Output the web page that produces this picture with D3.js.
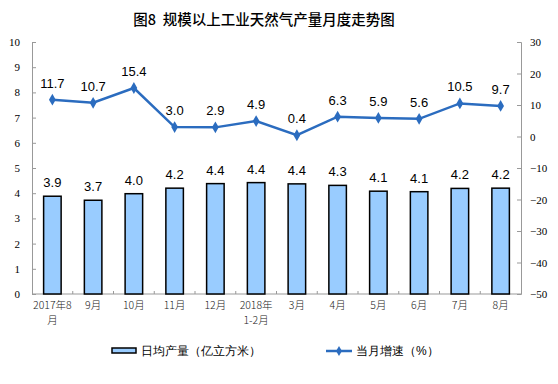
<!DOCTYPE html>
<html>
<head>
<meta charset="utf-8">
<script src="https://cdn.jsdelivr.net/npm/d3@7"></script>
<style>
  body { margin: 0; background: #fff; }
  text { font-family: "Liberation Sans", Arial, sans-serif; }
  .serif text, text.serif { font-family: "Liberation Serif", "Times New Roman", serif; }
</style>
</head>
<body>
<svg width="558" height="384"></svg>
<script>
// categories (two lines each)
var months = [["2017年8", "月"], ["9月"], ["10月"], ["11月"], ["12月"], ["2018年", "1-2月"],
              ["3月"], ["4月"], ["5月"], ["6月"], ["7月"], ["8月"]]
var output = [3.88, 3.72, 3.98, 4.2, 4.38, 4.42, 4.37, 4.31, 4.08, 4.06, 4.19, 4.2]
var outputLabels = ["3.9", "3.7", "4.0", "4.2", "4.4", "4.4", "4.4", "4.3", "4.1", "4.1", "4.2", "4.2"]
var growth = [11.7, 10.7, 15.4, 3.0, 2.9, 4.9, 0.4, 6.3, 5.9, 5.6, 10.5, 9.7]
var leftTicks = [0, 1, 2, 3, 4, 5, 6, 7, 8, 9, 10]
var rightTicks = [-50, -40, -30, -20, -10, 0, 10, 20, 30]

var svg = d3.select('svg')
var plotL = 32, plotR = 521, plotT = 42, plotB = 294
var blue = '#2b6cbf'

var x = d3.scaleBand().domain(d3.range(months.length)).range([plotL, plotR]).paddingInner(0.57).paddingOuter(0.285)
var band = d3.scaleBand().domain(d3.range(months.length)).range([plotL, plotR])
var y = d3.scaleLinear().domain([0, 10]).range([plotB, plotT])
var y2 = d3.scaleLinear().domain([-50, 30]).range([plotB, plotT])

// title
svg.append('text').attr('x', 264).attr('y', 25).attr('text-anchor', 'middle')
  .style('font-family', '"Noto Sans CJK SC", sans-serif').style('font-size', '14.5px').style('font-weight', '500')
  .text('图8\u00a0\u00a0规模以上工业天然气产量月度走势图')

// left axis
var la = svg.append('g').attr('class', 'serif').attr('transform', 'translate(' + plotL + ',0)')
  .call(d3.axisRight(y).tickValues(leftTicks).tickSize(4).tickFormat(d3.format('d')))
la.select('.domain').attr('stroke', '#999')
la.selectAll('.tick line').attr('stroke', '#999')
la.selectAll('.tick text').attr('x', -12).attr('text-anchor', 'end').style('font-size', '11px').attr('fill', '#000')

// right axis
var ra = svg.append('g').attr('class', 'serif').attr('transform', 'translate(' + plotR + ',0)')
  .call(d3.axisLeft(y2).tickValues(rightTicks).tickSize(4).tickFormat(d3.format('d')))
ra.select('.domain').attr('stroke', '#999')
ra.selectAll('.tick line').attr('stroke', '#999')
ra.selectAll('.tick text').attr('x', 9).attr('text-anchor', 'start').style('font-size', '11px').attr('fill', '#000')

// bottom axis
svg.append('line').attr('x1', plotL).attr('x2', plotR).attr('y1', plotB).attr('y2', plotB).attr('stroke', '#999')
svg.selectAll('.btick').data(d3.range(1, months.length)).enter().append('line')
  .attr('x1', function(d){ return band(d) }).attr('x2', function(d){ return band(d) })
  .attr('y1', plotB).attr('y2', plotB - 3).attr('stroke', '#999')

svg.selectAll('.xlab').data(months).enter().append('text')
  .attr('text-anchor', 'middle').attr('fill', '#222')
  .style('font-family', '"Noto Sans CJK SC", sans-serif').style('font-size', '10.5px').style('font-weight', '300')
  .each(function(d, i){
    var t = d3.select(this)
    d.forEach(function(line, j){
      t.append('tspan').attr('x', band(i) + band.bandwidth() / 2).attr('y', 309 + j * 15).text(line)
    })
  })

// bars
svg.selectAll('.bar').data(output).enter().append('rect')
  .attr('x', function(d, i){ return x(i) })
  .attr('width', x.bandwidth())
  .attr('y', function(d){ return y(d) })
  .attr('height', function(d){ return plotB - y(d) })
  .attr('fill', '#99ccff').attr('stroke', '#000').attr('stroke-width', 1.5)

svg.selectAll('.blab').data(outputLabels).enter().append('text')
  .attr('x', function(d, i){ return band(i) + band.bandwidth() / 2 })
  .attr('y', function(d, i){ return y(output[i]) - 9 })
  .attr('text-anchor', 'middle').style('font-size', '13px')
  .text(function(d){ return d })

// growth line
var line = d3.line().x(function(d, i){ return band(i) + band.bandwidth() / 2 }).y(function(d){ return y2(d) })
svg.append('path').datum(growth).attr('d', line).attr('fill', 'none').attr('stroke', blue).attr('stroke-width', 2.5)
svg.selectAll('.pt').data(growth).enter().append('path')
  .attr('d', d3.symbol().type(d3.symbolDiamond).size(40))
  .attr('transform', function(d, i){ return 'translate(' + (band(i) + band.bandwidth() / 2) + ',' + y2(d) + ')' })
  .attr('fill', blue)
svg.selectAll('.glab').data(growth).enter().append('text')
  .attr('x', function(d, i){ return band(i) + band.bandwidth() / 2 })
  .attr('y', function(d){ return y2(d) - 12 })
  .attr('text-anchor', 'middle').style('font-size', '13px')
  .text(function(d){ return d.toFixed(1) })

// legend
var lg = svg.append('g').style('font-family', '"Noto Sans CJK SC", sans-serif').style('font-size', '12px')
lg.append('rect').attr('x', 112).attr('y', 348).attr('width', 24).attr('height', 5)
  .attr('fill', '#99ccff').attr('stroke', '#000').attr('stroke-width', 1.5)
lg.append('text').attr('x', 141).attr('y', 355).text('日均产量（亿立方米）')
lg.append('line').attr('x1', 326).attr('x2', 352).attr('y1', 351).attr('y2', 351).attr('stroke', blue).attr('stroke-width', 2.5)
lg.append('path').attr('d', d3.symbol().type(d3.symbolDiamond).size(30)).attr('transform', 'translate(339,351)').attr('fill', blue)
lg.append('text').attr('x', 356).attr('y', 355).text('当月增速（%）')
</script>
</body>
</html>
